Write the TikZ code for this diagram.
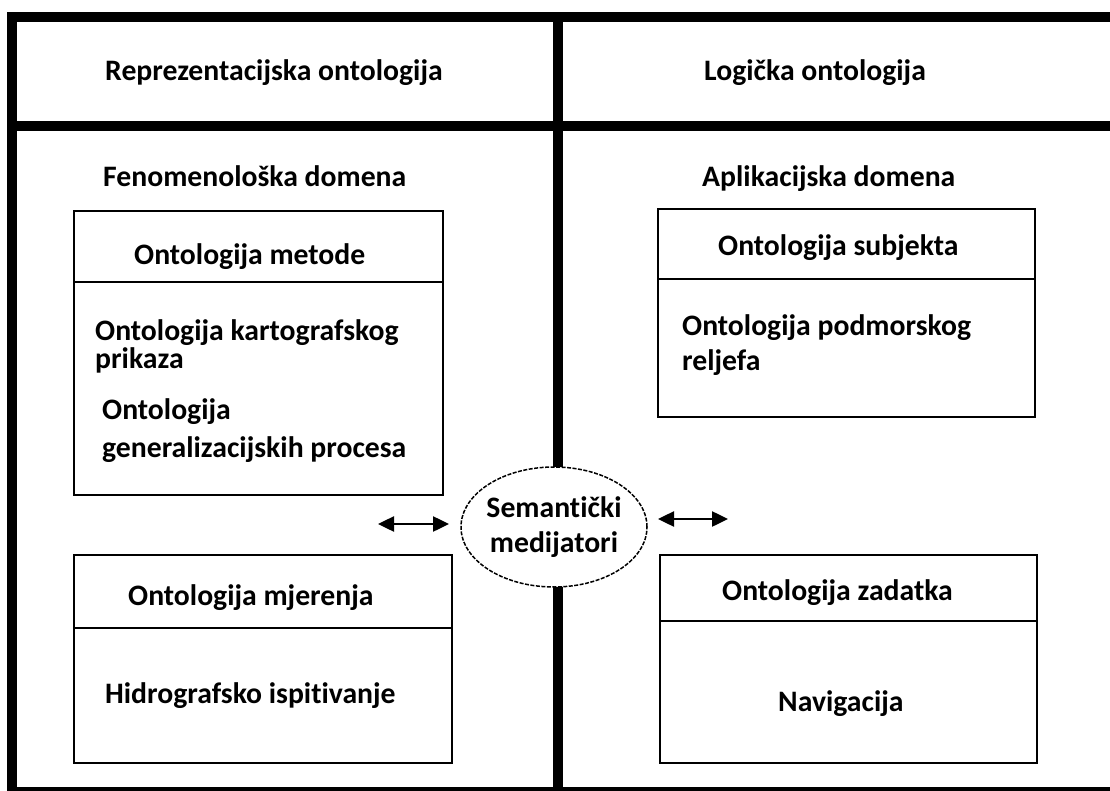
\documentclass[tikz,border=0pt]{standalone}
\usepackage{fontspec}
\setmainfont{Carlito}[Ligatures=NoCommon]
\usetikzlibrary{arrows.meta, positioning, shapes.geometric}

\begin{document}
\begin{tikzpicture}[x=1pt, y=-1pt,
        frame/.style={line width=10pt},
        boxpart/.style={draw, rectangle, line width=2pt, outer sep=0pt, inner sep=0pt},
        lbl/.style={font=\bfseries\fontsize{29.7}{#1}\selectfont, inner sep=0pt, anchor=base west, align=left},
        lbl/.default=35,
        twoway/.style={{Triangle[length=16pt,width=15pt]}-{Triangle[length=16pt,width=15pt]}, line width=2.5pt},
        medi/.style={ellipse, draw, fill=white, line width=1.5pt, dash pattern=on 4pt off 1.5pt,
            minimum width=186pt, minimum height=120pt, inner xsep=-2pt, inner ysep=0pt, align=center,
            font=\bfseries\fontsize{29.7}{35}\selectfont}]

    \useasboundingbox (0,0) rectangle (1110,791);
    \clip (0,0) rectangle (1110,791);

    % frame
    \draw[frame] (12,800) -- (12,17) -- (1120,17);
    \draw[frame] (12,126.5) -- (1120,126.5);
    \draw[frame] (12,792) -- (1120,792);
    \draw[frame] (558,17) -- (558,800);

    \node[lbl] (repT) at (105,81) {Reprezentacijska ontologija};
    \node[lbl] (logT) at (704,81) {Logička ontologija};
    \node[lbl] (fenT) at (103,187) {Fenomenološka domena};
    \node[lbl] (aplT) at (702,187) {Aplikacijska domena};

    % left boxes
    \node[boxpart, anchor=north west, minimum width=369pt, minimum height=71pt] (metodeH) at (74,211) {};
    \node[boxpart, minimum width=369pt, minimum height=213pt] (metodeB) [below=0pt of metodeH] {};
    \node[lbl] (metodeT) at (134,265) {Ontologija metode};
    \node[lbl=28] (kartT) at (95,368) {Ontologija kartografskog\\prikaza};
    \node[lbl=38] (genT) at (102,457) {Ontologija\\generalizacijskih procesa};

    \node[boxpart, anchor=north west, minimum width=378pt, minimum height=73pt] (mjerH) at (74,555) {};
    \node[boxpart, minimum width=378pt, minimum height=135pt] (mjerB) [below=0pt of mjerH] {};
    \node[lbl] (mjerT) at (128,605) {Ontologija mjerenja};
    \node[lbl] (hidT) at (105,703) {Hidrografsko ispitivanje};

    % right boxes
    \node[boxpart, anchor=north west, minimum width=377pt, minimum height=70pt] (subjH) at (658,209) {};
    \node[boxpart, minimum width=377pt, minimum height=138pt] (subjB) [below=0pt of subjH] {};
    \node[lbl] (subjT) at (718,256) {Ontologija subjekta};
    \node[lbl] (podT) at (682,370) {Ontologija podmorskog\\reljefa};

    \node[boxpart, anchor=north west, minimum width=377pt, minimum height=66pt] (zadH) at (660,555) {};
    \node[boxpart, minimum width=377pt, minimum height=142pt] (zadB) [below=0pt of zadH] {};
    \node[lbl] (zadT) at (722,600) {Ontologija zadatka};
    \node[lbl] (navT) at (778,711) {Navigacija};

    % mediators
    \node[medi] (med) at (554,527) {Semantički\\medijatori};
    \coordinate (aLa) at (378,524);
    \coordinate (aLb) at (449,524);
    \coordinate (aRa) at (658,519);
    \coordinate (aRb) at (728,519);
    \path[twoway] (aLa) edge (aLb)
        (aRa) edge (aRb);
\end{tikzpicture}
\end{document}
